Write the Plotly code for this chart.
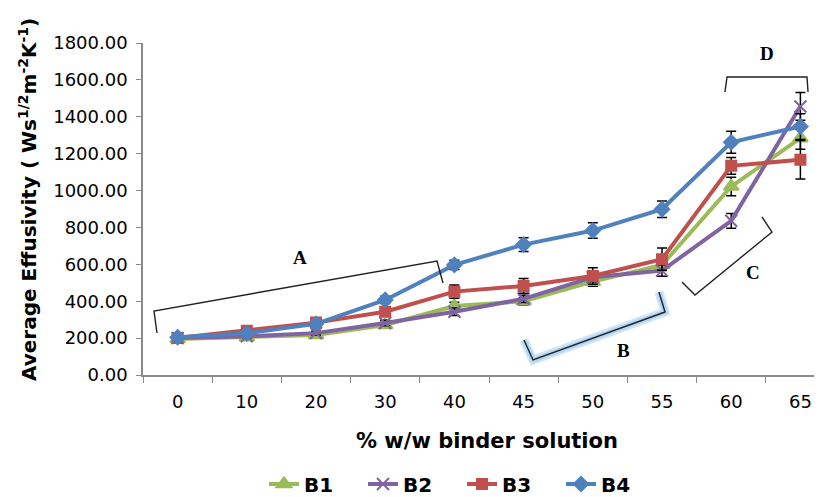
import plotly.graph_objects as go

categories = ["0", "10", "20", "30", "40", "45", "50", "55", "60", "65"]
b1 = [195, 205, 217, 271, 374, 400, 506, 597, 1022, 1284]
b2 = [200, 210, 227, 282, 343, 413, 530, 566, 836, 1456]
b3 = [200, 240, 284, 343, 452, 483, 537, 628, 1134, 1167]
b4 = [205, 226, 277, 407, 597, 707, 783, 899, 1262, 1347]
e1 = [8, 8, 10, 15, 20, 20, 25, 30, 50, 60]
e2 = [8, 8, 10, 15, 20, 20, 25, 30, 40, 75]
e3 = [8, 10, 12, 20, 36, 40, 45, 60, 45, 105]
e4 = [8, 10, 12, 20, 25, 37, 42, 45, 60, 70]
y_ticks = [0, 200, 400, 600, 800, 1000, 1200, 1400, 1600, 1800]

# page body has an 8px margin: figure is drawn starting at (8, 8) on screen
OFF = 8
W, H = 822 - OFF, 497 - OFF
SCR_L, SCR_R, SCR_T, SCR_B = 143, 822, 43, 375   # plot area on screen
L, T = SCR_L - OFF, SCR_T - OFF
R, B = W - (SCR_R - OFF), H - (SCR_B - OFF)
PW, PH = W - L - R, H - T - B

def px(x, y):
    """screen pixel -> paper coords"""
    return (x - SCR_L) / PW, (SCR_B - y) / PH

series = [
    ("B1", b1, e1, "#9BBB59", "triangle-up", 13),
    ("B2", b2, e2, "#8064A2", "x-thin-open", 12),
    ("B3", b3, e3, "#C0504D", "square", 10),
    ("B4", b4, e4, "#4F81BD", "diamond", 11),
]

fig = go.Figure()
for name, vals, errs, col, sym, size in series:
    fig.add_trace(go.Scatter(
        x=categories, y=vals, name=name, mode="lines+markers",
        line=dict(color=col, width=4),
        marker=dict(symbol=sym, size=size, color=col, line=dict(color=col, width=2)),
        error_y=dict(type="data", array=errs, color="black", thickness=1.5, width=5),
    ))

shapes = []
def path(points, color="#222222", width=1.4):
    d = ""
    for i, (x, y) in enumerate(points):
        xp, yp = px(x, y)
        d += ("M" if i == 0 else "L") + f"{xp:.4f},{yp:.4f} "
    shapes.append(dict(type="path", path=d, xref="paper", yref="paper",
                       line=dict(color=color, width=width)))

bpts = [(524, 340), (533, 360), (665, 312), (659, 292)]
path(bpts, color="rgba(120,180,235,0.35)", width=9)
path(bpts, color="rgba(120,180,235,0.35)", width=5)
path([(157, 333), (154, 311), (437, 261), (443, 283)])
path(bpts)
path([(682, 282), (695, 295), (772, 232), (762, 217)])
path([(725, 92), (727, 77), (807, 77), (808, 92)])

annotations = []
for label, (x, y) in [("A", (300, 257)), ("B", (623, 350)), ("C", (753, 272)), ("D", (767, 53))]:
    xp, yp = px(x, y)
    annotations.append(dict(text="<b>" + label + "</b>", x=xp, y=yp, xref="paper", yref="paper",
                            xanchor="center", yanchor="middle", showarrow=False,
                            font=dict(family="Liberation Serif", size=19, color="black")))

xp, yp = px(28, 200)
annotations.append(dict(text="<b>Average Effusivity ( Ws<sup>1/2</sup>m<sup>-2</sup>K<sup>-1</sup>)</b>",
                        x=xp, y=yp, xref="paper", yref="paper", textangle=-90, showarrow=False,
                        xanchor="center", yanchor="middle",
                        font=dict(family="DejaVu Sans", size=20, color="black")))
xp, yp = px(487, 441)
annotations.append(dict(text="<b>% w/w binder solution</b>", x=xp, y=yp, xref="paper", yref="paper",
                        xanchor="center", yanchor="middle", showarrow=False,
                        font=dict(family="DejaVu Sans", size=21, color="black")))

fig.update_layout(
    width=W, height=H, margin=dict(l=L, r=R, t=T, b=B, autoexpand=False),
    plot_bgcolor="white", paper_bgcolor="white",
    font=dict(family="DejaVu Sans", size=18, color="black"),
    showlegend=True,
    legend=dict(orientation="h", x=px(264, 0)[0], xanchor="left", y=px(0, 484)[1], yanchor="middle",
                font=dict(family="DejaVu Sans", size=20, color="black", weight="bold"),
                entrywidth=54, traceorder="normal"),
    shapes=shapes, annotations=annotations,
    xaxis=dict(type="category", categoryorder="array", categoryarray=categories,
               range=[-0.5, -0.5 + PW / 69.2], showline=True, linecolor="#8A8A8A", linewidth=1.5,
               ticks="outside", tickson="boundaries", ticklen=6, tickcolor="#8A8A8A",
               ticklabelstandoff=10,
               showgrid=False, zeroline=False, tickfont=dict(size=18)),
    yaxis=dict(range=[0, 1800], tickvals=y_ticks, tickformat=".2f", showline=True,
               linecolor="#8A8A8A", linewidth=1.5, ticks="outside", ticklen=5, tickcolor="#8A8A8A",
               ticklabelstandoff=5,
               showgrid=False, zeroline=False, tickfont=dict(size=18)),
)

fig.write_html("out.html")
